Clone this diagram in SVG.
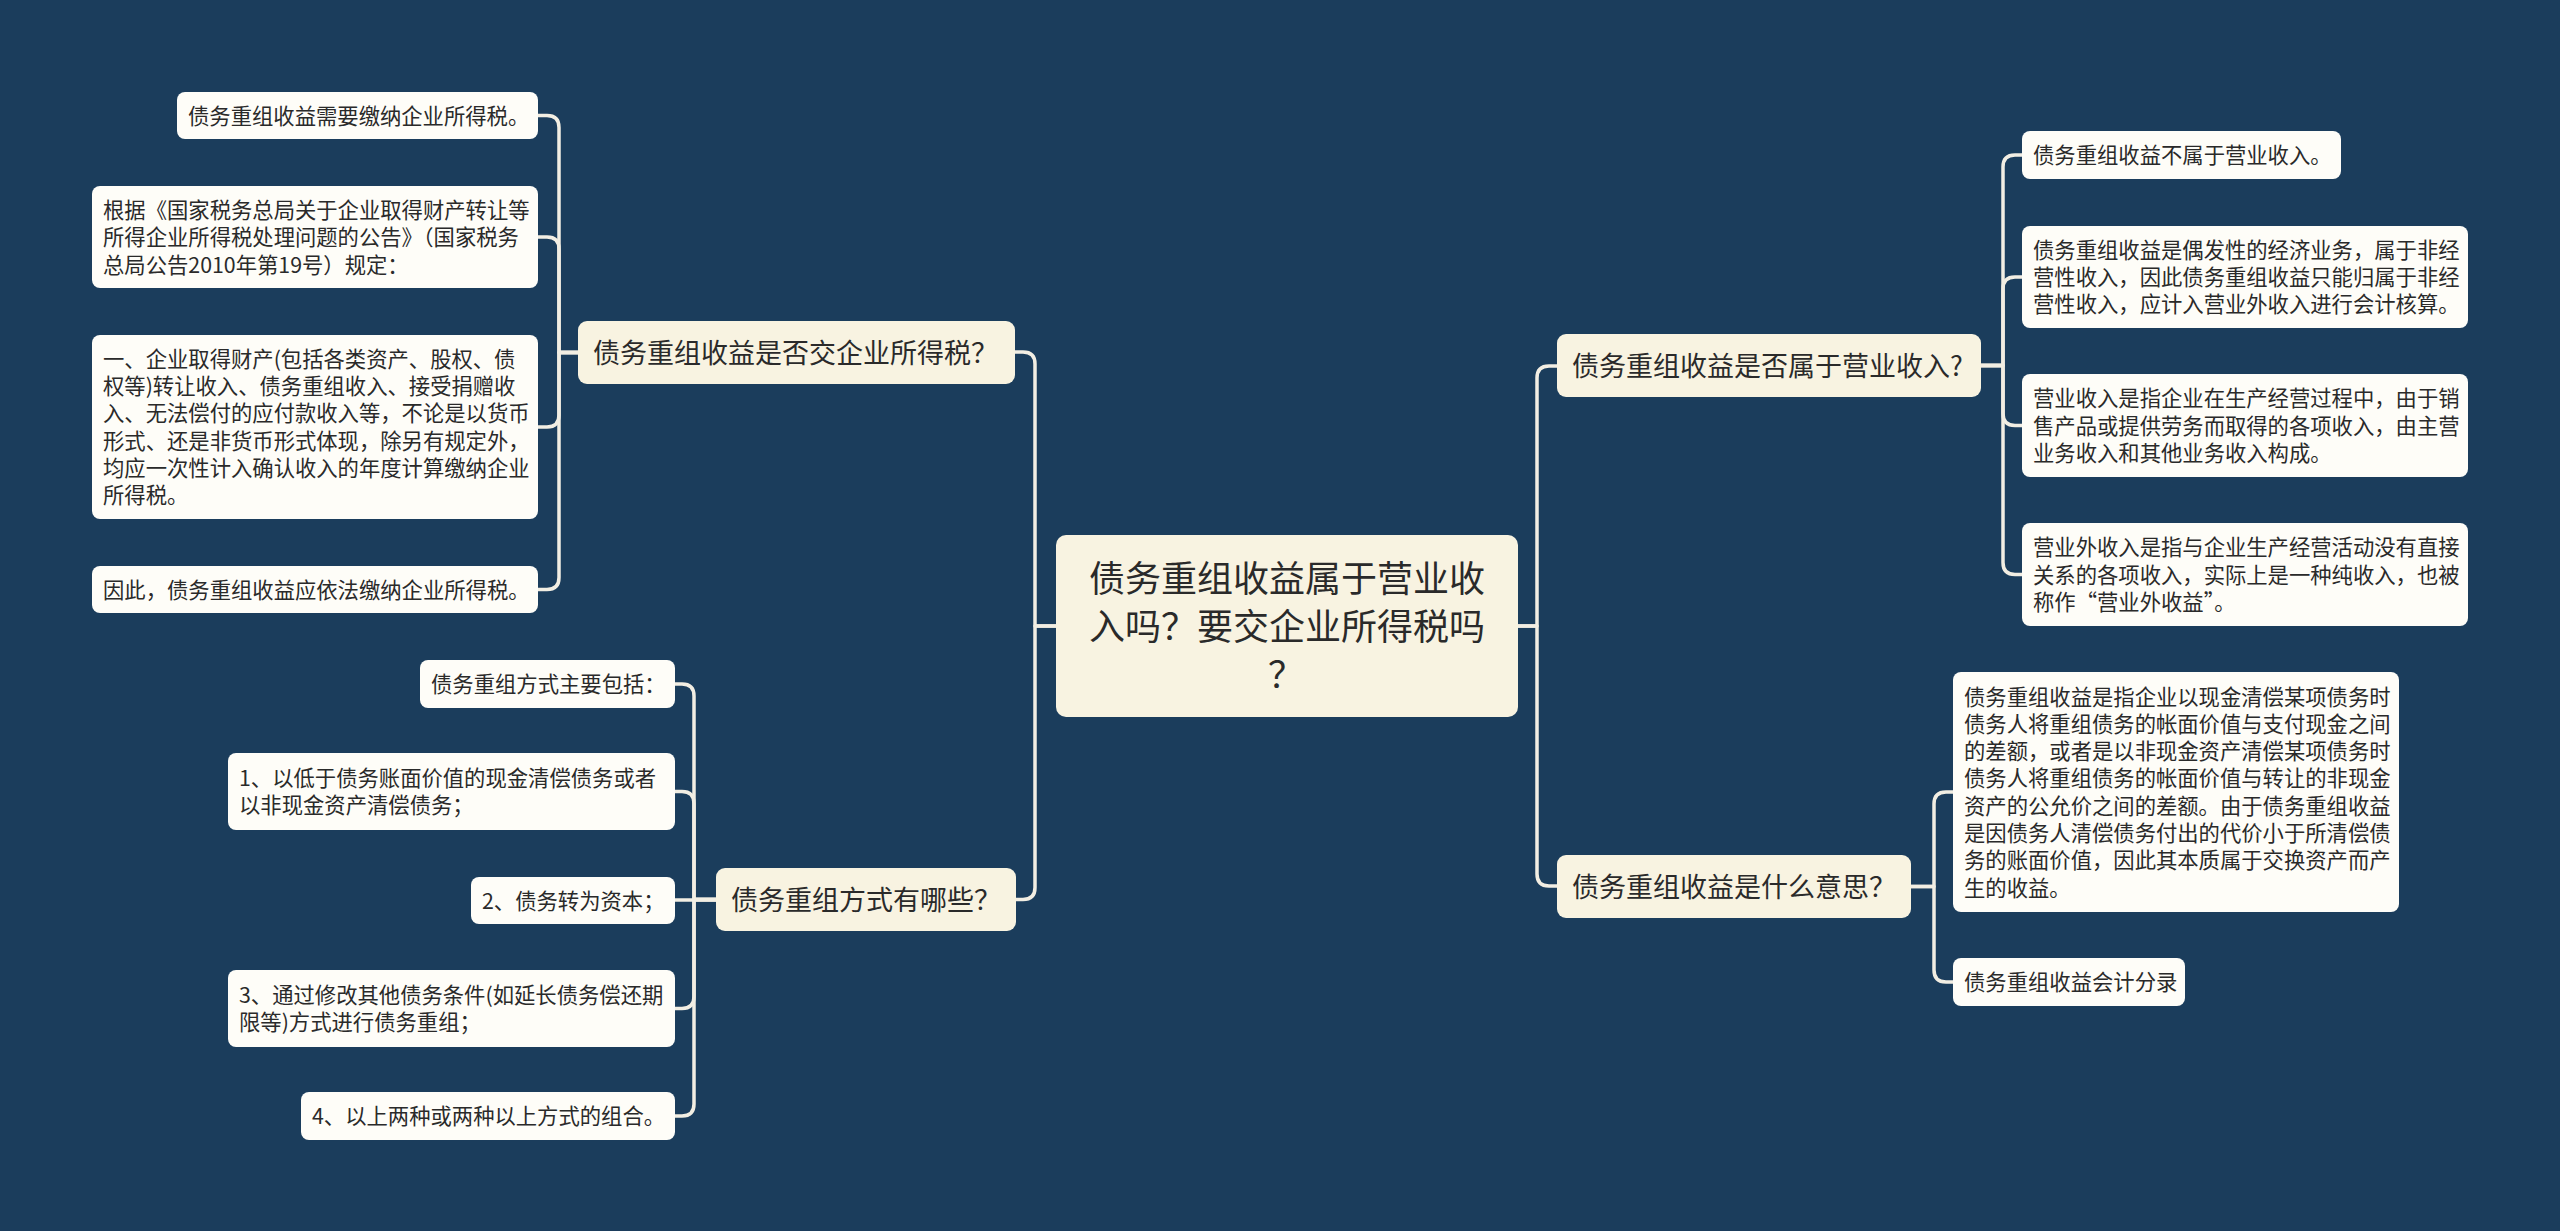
<svg xmlns="http://www.w3.org/2000/svg" width="2560" height="1231" viewBox="0 0 2560 1231">
<style>
.bg{fill:#1B3D5C}
.main{fill:#F8F3E1}
.leaf{fill:#FEFDF8}
text{font-family:"Noto Sans CJK SC","Noto Sans",sans-serif;fill:#2A2A2A}
.t0{font-size:36px}
.t1{font-size:27px}
.t2{font-size:21.33px}
.conn path{fill:none;stroke:#F2EEE3;stroke-width:3.5;stroke-linecap:round;stroke-linejoin:round}
</style>
<rect class="bg" x="0" y="0" width="2560" height="1231"/>
<g class="conn" id="connectors">
<path d="M1517 626 H1537 V378 Q1537 366 1549 366 H1557"/>
<path d="M1517 626 H1537 V874 Q1537 886 1549 886 H1557"/>
<path d="M1056 626 H1035 V364 Q1035 352 1023 352 H1015"/>
<path d="M1056 626 H1035 V887.5 Q1035 899.5 1023 899.5 H1016"/>
<path d="M578 352.5 H559 V127.5 Q559 115.5 547 115.5 H538"/>
<path d="M578 352.5 H559 V249 Q559 237 547 237 H538"/>
<path d="M578 352.5 H559 V415 Q559 427 547 427 H538"/>
<path d="M578 352.5 H559 V577.5 Q559 589.5 547 589.5 H538"/>
<path d="M716 899.5 H694 V696 Q694 684 682 684 H675"/>
<path d="M716 899.5 H694 V803.5 Q694 791.5 682 791.5 H675"/>
<path d="M716 900 H675"/>
<path d="M716 899.5 H694 V996.5 Q694 1008.5 682 1008.5 H675"/>
<path d="M716 899.5 H694 V1104 Q694 1116 682 1116 H675"/>
<path d="M1981 365.5 H2003 V167 Q2003 155 2015 155 H2022"/>
<path d="M1981 365.5 H2003 V289 Q2003 277 2015 277 H2022"/>
<path d="M1981 365.5 H2003 V413.5 Q2003 425.5 2015 425.5 H2022"/>
<path d="M1981 365.5 H2003 V562.5 Q2003 574.5 2015 574.5 H2022"/>
<path d="M1911 886.5 H1934 V804 Q1934 792 1946 792 H1953"/>
<path d="M1911 886.5 H1934 V970 Q1934 982 1946 982 H1953"/>
</g>
<g id="root">
<rect class="main" x="1056" y="535" width="462" height="182" rx="10"/>
<text class="t0" x="1287" y="591.7" text-anchor="middle">债务重组收益属于营业收</text>
<text class="t0" x="1287" y="639.7" text-anchor="middle">入吗？要交企业所得税吗</text>
<text class="t0" x="1286" y="687.7" text-anchor="middle">？</text>
</g>
<g id="b1">
<rect class="main" x="578" y="321" width="437" height="63" rx="9"/>
<text class="t1" x="593" y="362.5">债务重组收益是否交企业所得税？</text>
</g>
<g id="b2">
<rect class="main" x="716" y="868" width="300" height="63" rx="9"/>
<text class="t1" x="731" y="909.5">债务重组方式有哪些？</text>
</g>
<g id="b3">
<rect class="main" x="1557" y="334" width="424" height="63" rx="9"/>
<text class="t1" x="1572" y="375.5">债务重组收益是否属于营业收入?</text>
</g>
<g id="b4">
<rect class="main" x="1557" y="855" width="354" height="63" rx="9"/>
<text class="t1" x="1572" y="896.5">债务重组收益是什么意思？</text>
</g>
<g id="l1">
<rect class="leaf" x="177" y="92" width="361" height="47" rx="8"/>
<text class="t2" x="188" y="123.5">债务重组收益需要缴纳企业所得税。</text>
</g>
<g id="l2">
<rect class="leaf" x="92" y="186" width="446" height="102" rx="8"/>
<text class="t2" x="103" y="218">根据《国家税务总局关于企业取得财产转让等</text>
<text class="t2" x="103" y="245.3">所得企业所得税处理问题的公告》（国家税务</text>
<text class="t2" x="103" y="272.6">总局公告2010年第19号）规定：</text>
</g>
<g id="l3">
<rect class="leaf" x="92" y="335" width="446" height="184" rx="8"/>
<text class="t2" x="103" y="366.8">一、企业取得财产(包括各类资产、股权、债</text>
<text class="t2" x="103" y="394.1">权等)转让收入、债务重组收入、接受捐赠收</text>
<text class="t2" x="103" y="421.4">入、无法偿付的应付款收入等，不论是以货币</text>
<text class="t2" x="103" y="448.7">形式、还是非货币形式体现，除另有规定外，</text>
<text class="t2" x="103" y="476">均应一次性计入确认收入的年度计算缴纳企业</text>
<text class="t2" x="103" y="503.3">所得税。</text>
</g>
<g id="l4">
<rect class="leaf" x="92" y="566" width="446" height="47" rx="8"/>
<text class="t2" x="103" y="597.5">因此，债务重组收益应依法缴纳企业所得税。</text>
</g>
<g id="l5">
<rect class="leaf" x="420" y="660" width="255" height="48" rx="8"/>
<text class="t2" x="431" y="692">债务重组方式主要包括：</text>
</g>
<g id="l6">
<rect class="leaf" x="228" y="753" width="447" height="77" rx="8"/>
<text class="t2" x="239" y="785.9">1、以低于债务账面价值的现金清偿债务或者</text>
<text class="t2" x="239" y="813.2">以非现金资产清偿债务；</text>
</g>
<g id="l7">
<rect class="leaf" x="471" y="877" width="204" height="47" rx="8"/>
<text class="t2" x="482" y="908.5">2、债务转为资本；</text>
</g>
<g id="l8">
<rect class="leaf" x="228" y="970" width="447" height="77" rx="8"/>
<text class="t2" x="239" y="1002.9">3、通过修改其他债务条件(如延长债务偿还期</text>
<text class="t2" x="239" y="1030.2">限等)方式进行债务重组；</text>
</g>
<g id="l9">
<rect class="leaf" x="301" y="1092" width="374" height="48" rx="8"/>
<text class="t2" x="312" y="1124">4、以上两种或两种以上方式的组合。</text>
</g>
<g id="r1">
<rect class="leaf" x="2022" y="131" width="319" height="48" rx="8"/>
<text class="t2" x="2033" y="163">债务重组收益不属于营业收入。</text>
</g>
<g id="r2">
<rect class="leaf" x="2022" y="226" width="446" height="102" rx="8"/>
<text class="t2" x="2033" y="257.7">债务重组收益是偶发性的经济业务，属于非经</text>
<text class="t2" x="2033" y="285">营性收入，因此债务重组收益只能归属于非经</text>
<text class="t2" x="2033" y="312.3">营性收入，应计入营业外收入进行会计核算。</text>
</g>
<g id="r3">
<rect class="leaf" x="2022" y="374" width="446" height="103" rx="8"/>
<text class="t2" x="2033" y="406.2">营业收入是指企业在生产经营过程中，由于销</text>
<text class="t2" x="2033" y="433.5">售产品或提供劳务而取得的各项收入，由主营</text>
<text class="t2" x="2033" y="460.8">业务收入和其他业务收入构成。</text>
</g>
<g id="r4">
<rect class="leaf" x="2022" y="523" width="446" height="103" rx="8"/>
<text class="t2" x="2033" y="555.2">营业外收入是指与企业生产经营活动没有直接</text>
<text class="t2" x="2033" y="582.5">关系的各项收入，实际上是一种纯收入，也被</text>
<text class="t2" x="2033" y="609.8">称作“营业外收益”。</text>
</g>
<g id="r5">
<rect class="leaf" x="1953" y="672" width="446" height="240" rx="8"/>
<text class="t2" x="1964" y="704.5">债务重组收益是指企业以现金清偿某项债务时</text>
<text class="t2" x="1964" y="731.8">债务人将重组债务的帐面价值与支付现金之间</text>
<text class="t2" x="1964" y="759.1">的差额，或者是以非现金资产清偿某项债务时</text>
<text class="t2" x="1964" y="786.4">债务人将重组债务的帐面价值与转让的非现金</text>
<text class="t2" x="1964" y="813.7">资产的公允价之间的差额。由于债务重组收益</text>
<text class="t2" x="1964" y="841">是因债务人清偿债务付出的代价小于所清偿债</text>
<text class="t2" x="1964" y="868.3">务的账面价值，因此其本质属于交换资产而产</text>
<text class="t2" x="1964" y="895.6">生的收益。</text>
</g>
<g id="r6">
<rect class="leaf" x="1953" y="958" width="232" height="48" rx="8"/>
<text class="t2" x="1964" y="990">债务重组收益会计分录</text>
</g>
</svg>
